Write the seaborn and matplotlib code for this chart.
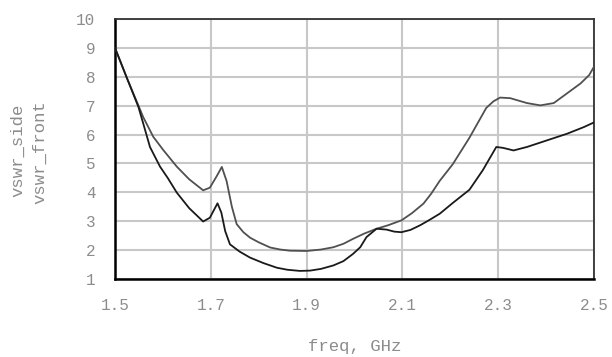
import numpy as np
import pandas as pd
import matplotlib
matplotlib.use("Agg")
import matplotlib.pyplot as plt
import seaborn as sns

# ---- data ----
freq_front = [1.5, 1.525, 1.549, 1.559, 1.58, 1.601, 1.629, 1.655, 1.684, 1.698, 1.712, 1.723,
              1.733, 1.744, 1.754, 1.768, 1.782, 1.8, 1.824, 1.845, 1.865, 1.9, 1.93, 1.956,
              1.977, 1.997, 2.02, 2.046, 2.07, 2.098, 2.12, 2.144, 2.16, 2.178, 2.205, 2.24,
              2.275, 2.29, 2.304, 2.325, 2.36, 2.388, 2.416, 2.444, 2.472, 2.49, 2.5]
vswr_front = [9.0, 7.95, 7.0, 6.6, 5.92, 5.46, 4.89, 4.45, 4.07, 4.16, 4.55, 4.88,
              4.39, 3.5, 2.9, 2.62, 2.43, 2.27, 2.09, 2.02, 1.98, 1.97, 2.02, 2.1,
              2.22, 2.39, 2.57, 2.74, 2.86, 3.03, 3.28, 3.61, 3.95, 4.4, 4.97, 5.89,
              6.92, 7.15, 7.28, 7.26, 7.09, 7.01, 7.09, 7.43, 7.77, 8.06, 8.35]

freq_side = [1.5, 1.525, 1.549, 1.559, 1.573, 1.594, 1.61, 1.629, 1.655, 1.684, 1.698, 1.714,
             1.722, 1.73, 1.74, 1.76, 1.782, 1.81, 1.838, 1.86, 1.886, 1.907, 1.93, 1.956,
             1.977, 1.997, 2.012, 2.025, 2.046, 2.067, 2.083, 2.098, 2.117, 2.137, 2.155,
             2.178, 2.205, 2.24, 2.268, 2.296, 2.31, 2.332, 2.36, 2.402, 2.444, 2.479, 2.5]
vswr_side = [9.0, 7.95, 6.95, 6.38, 5.57, 4.89, 4.5, 3.99, 3.45, 2.99, 3.12, 3.62,
             3.3, 2.66, 2.2, 1.95, 1.74, 1.55, 1.39, 1.32, 1.28, 1.29, 1.35, 1.47,
             1.62, 1.87, 2.1, 2.45, 2.74, 2.71, 2.64, 2.62, 2.7, 2.86, 3.03,
             3.26, 3.63, 4.09, 4.77, 5.57, 5.54, 5.45, 5.57, 5.8, 6.03, 6.26, 6.42]

x_ticks = [1.5, 1.7, 1.9, 2.1, 2.3, 2.5]
x_tick_labels = ["1.5", "1.7", "1.9", "2.1", "2.3", "2.5"]
y_ticks = [1, 2, 3, 4, 5, 6, 7, 8, 9, 10]
y_tick_labels = ["1", "2", "3", "4", "5", "6", "7", "8", "9", "10"]

sns.set_style("white")
plt.rcParams['font.family'] = ['Liberation Mono', 'DejaVu Sans Mono']

fig = plt.figure(figsize=(6.12, 3.57), dpi=100)
ax = fig.add_axes([115 / 612, 1 - 279 / 357, 479 / 612, 260 / 357])

df_front = pd.DataFrame({"freq": freq_front, "vswr": vswr_front})
df_side = pd.DataFrame({"freq": freq_side, "vswr": vswr_side})
sns.lineplot(data=df_front, x="freq", y="vswr", ax=ax, color="#505050", lw=1.3,
             estimator=None, sort=False, zorder=3)
sns.lineplot(data=df_side, x="freq", y="vswr", ax=ax, color="#1a1a1a", lw=1.3,
             estimator=None, sort=False, zorder=3)

ax.set_xlim(1.5, 2.5)
ax.set_ylim(1, 10)
ax.set_xticks(x_ticks)
ax.set_xticklabels(x_tick_labels)
ax.set_yticks(y_ticks)
ax.set_yticklabels(y_tick_labels)
ax.set_xlabel("")
ax.set_ylabel("")
ax.set_axisbelow(True)
ax.grid(True, color="#c8c8c8", lw=1.5)
ax.tick_params(direction="out", length=10.5, width=1.6, colors="black",
               labelcolor="#8c8c8c", labelsize=11.5, pad=3.5)
ax.yaxis.get_major_ticks()[-1].tick1line.set_visible(False)
ax.xaxis.get_major_ticks()[-1].tick1line.set_visible(False)

for s in ["left", "bottom"]:
    ax.spines[s].set_color("black")
    ax.spines[s].set_linewidth(1.8)
for s in ["top", "right"]:
    ax.spines[s].set_color("#333333")
    ax.spines[s].set_linewidth(1.3)

fig.text(18 / 612, 1 - 150 / 357, "vswr_side", rotation=90, ha="center", va="center",
         color="#8c8c8c", fontsize=12.5)
fig.text(40 / 612, 1 - 152 / 357, "vswr_front", rotation=90, ha="center", va="center",
         color="#8c8c8c", fontsize=12.5)
fig.text(354.5 / 612, 1 - 347 / 357, "freq, GHz", ha="center", va="center",
         color="#8c8c8c", fontsize=12.5)

fig.savefig("out.png", dpi=100)
